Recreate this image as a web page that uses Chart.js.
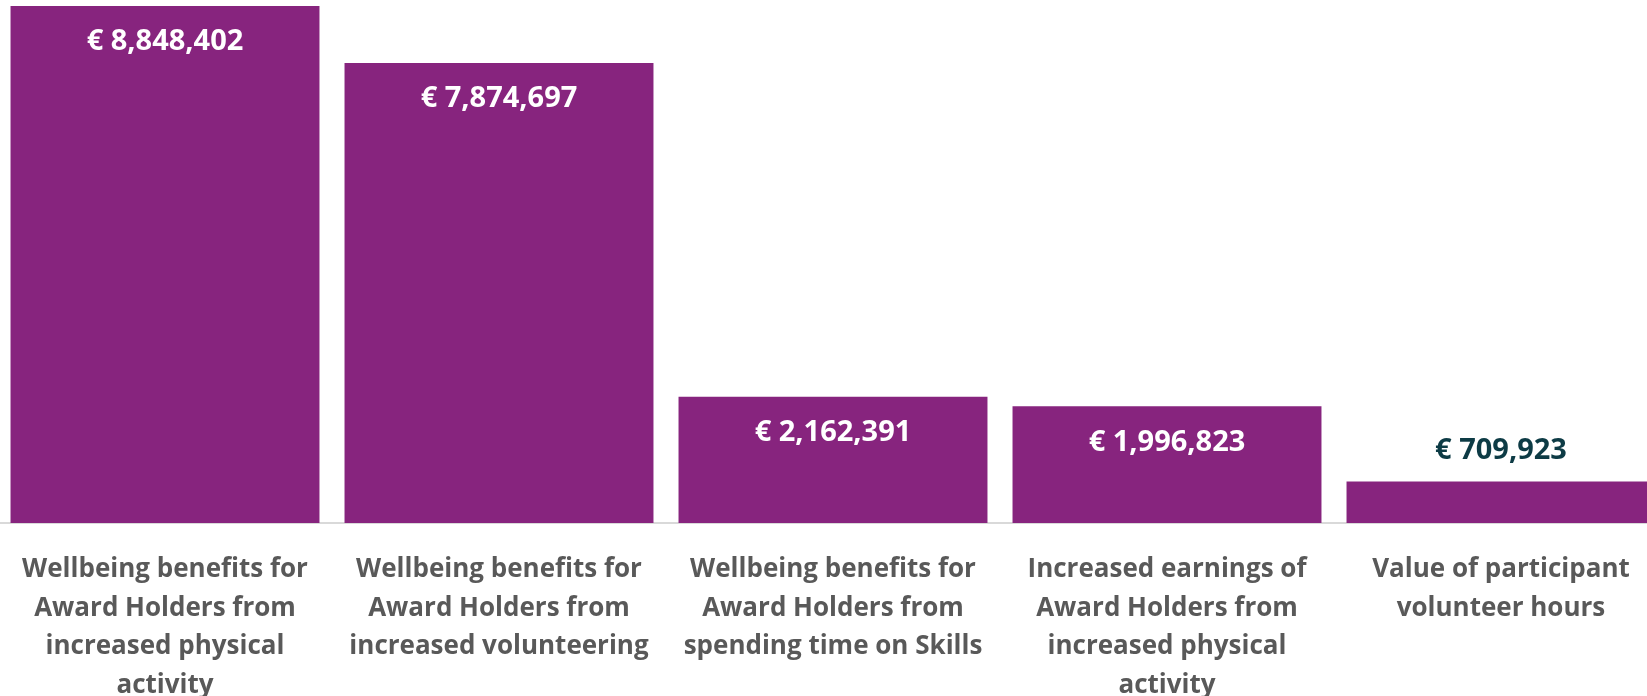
<!DOCTYPE html>
<html>
<head>
<meta charset="utf-8">
<script src="https://cdn.jsdelivr.net/npm/chart.js@4/dist/chart.umd.min.js"></script>
<style>
  html, body { margin: 0; padding: 0; background: #fff; overflow: hidden; }
  #wrap { position: absolute; left: -2px; top: 0; width: 1670px; height: 696px; }
</style>
</head>
<body>
<div id="wrap"><canvas id="valueChart"></canvas></div>
<script>
const categories = [
  ['Wellbeing benefits for', 'Award Holders from', 'increased physical', 'activity'],
  ['Wellbeing benefits for', 'Award Holders from', 'increased volunteering'],
  ['Wellbeing benefits for', 'Award Holders from', 'spending time on Skills'],
  ['Increased earnings of', 'Award Holders from', 'increased physical', 'activity'],
  ['Value of participant', 'volunteer hours']
];
const values = [8848402, 7874697, 2162391, 1996823, 709923];

const labelFont = '"Open Sans", sans-serif';
const purple = '#87247E';

const fmtEuro = (v) => '€ ' + v.toLocaleString('en-US');

const valueLabels = {
  id: 'valueLabels',
  afterDatasetsDraw(chart) {
    const ctx = chart.ctx;
    const meta = chart.getDatasetMeta(0);
    ctx.save();
    ctx.font = 'bold 29px ' + labelFont;
    ctx.textAlign = 'center';
    ctx.textBaseline = 'middle';
    meta.data.forEach((bar, i) => {
      const h = bar.base - bar.y;
      if (h > 80) {
        ctx.fillStyle = '#FFFFFF';
        ctx.fillText(fmtEuro(values[i]), bar.x, bar.y + 36);
      } else {
        ctx.fillStyle = '#0D3B45';
        ctx.fillText(fmtEuro(values[i]), bar.x, bar.y - 31);
      }
    });
    ctx.restore();
  }
};

new Chart(document.getElementById('valueChart').getContext('2d'), {
  type: 'bar',
  data: {
    labels: categories,
    datasets: [{
      data: values,
      backgroundColor: purple,
      borderWidth: 0,
      barPercentage: 0.925,
      categoryPercentage: 1
    }]
  },
  options: {
    responsive: true,
    maintainAspectRatio: false,
    animation: false,
    layout: { padding: { top: 6, left: 0, right: 0, bottom: 0 } },
    plugins: { legend: { display: false }, tooltip: { enabled: false } },
    scales: {
      x: {
        grid: { display: false },
        border: { display: true, color: '#D9D9D9', width: 2 },
        ticks: {
          color: '#595959',
          padding: 19,
          maxRotation: 0,
          autoSkip: false,
          font: { family: labelFont, size: 26, weight: 'bold', lineHeight: 1.49 }
        },
        afterFit: (scale) => { scale.height = 173; }
      },
      y: {
        display: false,
        min: 0,
        max: Math.max(...values)
      }
    }
  },
  plugins: [valueLabels]
});
</script>
</body>
</html>
